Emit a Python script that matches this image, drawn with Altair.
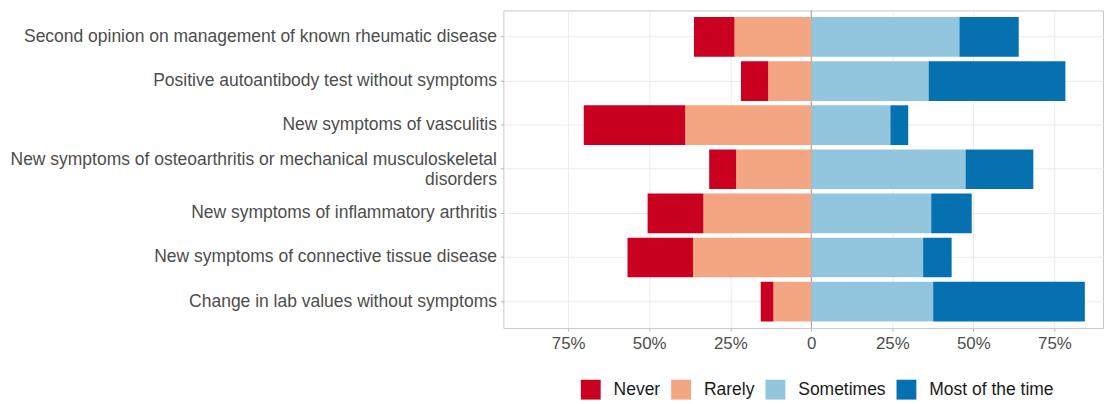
import altair as alt
import pandas as pd

categories = [
    "Second opinion on management of known rheumatic disease",
    "Positive autoantibody test without symptoms",
    "New symptoms of vasculitis",
    "New symptoms of osteoarthritis or mechanical musculoskeletal disorders",
    "New symptoms of inflammatory arthritis",
    "New symptoms of connective tissue disease",
    "Change in lab values without symptoms",
]
responses = ["Never", "Rarely", "Sometimes", "Most of the time"]
colors = ["#CA0020", "#F4A582", "#92C5DE", "#0571B0"]

never = [12.5, 8.4, 31.3, 8.3, 17.2, 20.2, 3.9]
rarely = [23.7, 13.3, 38.9, 23.2, 33.3, 36.5, 11.7]
sometimes = [45.7, 36.2, 24.4, 47.6, 37.0, 34.5, 37.6]
most = [18.3, 42.2, 5.5, 20.9, 12.5, 8.8, 46.8]

tick_values = [-0.75, -0.5, -0.25, 0, 0.25, 0.5, 0.75]

rows = []
for i, c in enumerate(categories):
    r = rarely[i] / 100
    n = never[i] / 100
    s = sometimes[i] / 100
    m = most[i] / 100
    rows.append({"cat": c, "resp": "Rarely", "x0": -r, "x1": 0.0})
    rows.append({"cat": c, "resp": "Never", "x0": -(r + n), "x1": -r})
    rows.append({"cat": c, "resp": "Sometimes", "x0": 0.0, "x1": s})
    rows.append({"cat": c, "resp": "Most of the time", "x0": s, "x1": s + m})
df = pd.DataFrame(rows)

FONT = "Liberation Sans"
long_label = categories[3]
label_expr = (
    f"datum.value == '{long_label}' ? "
    "['New symptoms of osteoarthritis or mechanical musculoskeletal', 'disorders'] : datum.label"
)

xscale = alt.Scale(domain=[-0.95, 0.90], nice=False, zero=False)
yscale = alt.Scale(paddingInner=0.1, paddingOuter=0.15)

bars = alt.Chart(df).mark_bar(strokeWidth=0).encode(
    y=alt.Y("cat:N", sort=categories, scale=yscale, title=None,
            axis=alt.Axis(labelExpr=label_expr, labelFont=FONT, labelFontSize=17.6,
                          labelColor="#4D4D4D", labelLineHeight=19.5, labelLimit=600,
                          labelOffset={"condition": {"test": f"datum.value == '{long_label}'",
                                                     "value": -9},
                                       "value": 0},
                          tickColor="#B3B3B3", tickSize=3, labelPadding=4,
                          domain=False, grid=True, gridColor="#EBEBEB",
                          bandPosition=0.5)),
    x=alt.X("x0:Q", scale=xscale, title=None,
            axis=alt.Axis(values=tick_values,
                          labelExpr="datum.value == 0 ? '0' : format(abs(datum.value), '.0%')",
                          labelFont=FONT, labelFontSize=17, labelColor="#4D4D4D",
                          tickColor="#B3B3B3", tickSize=3, labelPadding=5,
                          domain=False, grid=True, gridColor="#EBEBEB")),
    x2="x1:Q",
    color=alt.Color("resp:N", scale=alt.Scale(domain=responses, range=colors),
                    legend=alt.Legend(title=None, orient="none", direction="horizontal",
                                      legendX=78, legendY=372, symbolType="square",
                                      symbolSize=400, symbolStrokeWidth=0,
                                      labelFont=FONT, labelFontSize=17.6,
                                      labelColor="#1A1A1A", labelOffset=13,
                                      columnPadding=11)),
)

zero = alt.Chart(pd.DataFrame({"x": [0.0]})).mark_rule(color="#9A9A9A", strokeWidth=1).encode(
    x=alt.X("x:Q", scale=xscale)
)

chart = alt.layer(zero, bars).properties(
    width=604, height=320,
    autosize=alt.AutoSizeParams(type="none"),
    padding={"left": 499, "top": 1, "right": 1, "bottom": 75},
).configure_view(stroke="#C8C8C8", strokeWidth=1)

chart.save("out.html", embed_options={"renderer": "svg", "actions": False})
